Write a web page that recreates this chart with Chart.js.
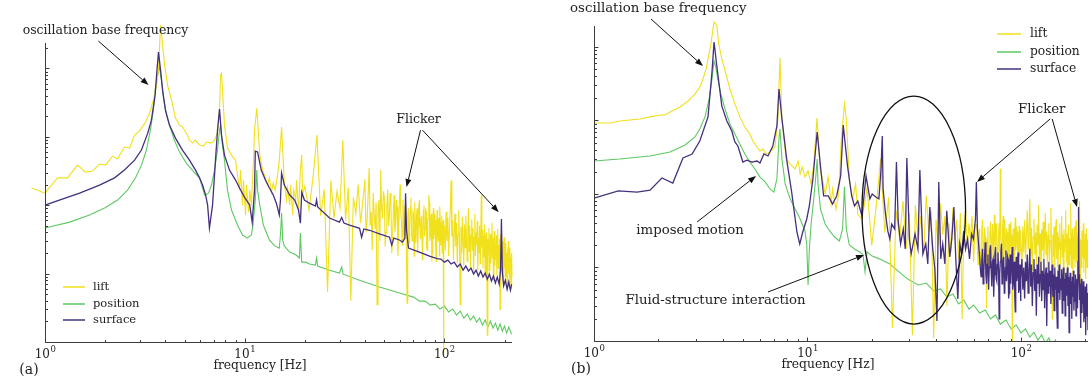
<!DOCTYPE html>
<html>
<head>
<meta charset="utf-8">
<script src="https://cdn.jsdelivr.net/npm/chart.js@4.4.1/dist/chart.umd.min.js"></script>
<style>
  body { margin: 0; background: #fff; }
  canvas { position: absolute; top: 0; }
  #chartA { left: 0; }
  #chartB { left: 546px; }
</style>
</head>
<body>
<canvas id="chartA" width="546" height="383"></canvas>
<canvas id="chartB" width="546" height="383"></canvas>
<script>
// series: [frequency Hz, amplitude]
const seriesNames = ["lift", "position", "surface"];
const seriesColors = ["#f1e01c", "#5ec962", "#45307e"];

const xMajor = [1, 10, 100];
const xTickExp = ["0", "1", "2"];
const yMajor = [1e-4, 1e-3, 1e-2, 1e-1, 1];

// ---- panel (a)
const liftA = [
  [0.664,1.78e-2],[0.72,1.5e-2],[0.856,1.78e-2],[1.0,1.5e-2],[1.155,2.51e-2],[1.296,2.51e-2],[1.455,3.85e-2],[1.595,3.05e-2],
  [1.729,3.15e-2],[1.875,3.99e-2],[2.009,3.85e-2],[2.178,5.22e-2],[2.307,4.72e-2],[2.5,7.08e-2],[2.65,6.84e-2],[2.81,0.106],
  [2.97,0.121],[3.19,0.164],[3.34,0.222],[3.49,0.344],[3.62,0.57],[3.7,0.944],[3.74,1.85],[3.79,4.3],[3.88,2.19],[3.97,1.12],
  [4.11,0.57],[4.3,0.344],[4.5,0.188],[4.72,0.148],[4.88,0.139],[5.17,0.106],[5.29,0.0895],[5.48,0.081],[5.67,0.0895],
  [5.94,0.0757],[6.22,0.0731],[6.44,0.0837],[6.82,0.081],[7.06,0.0895],[7.31,0.117],[7.48,0.246],[7.57,0.798],[7.65,0.853],
  [7.74,0.482],[7.92,0.148],[8.2,0.0684],[8.59,0.054],[9.0,0.0456],[9.21,0.0275],[9.42,0.0166],[9.53,0.0326],[9.75,0.01],
  [9.86,0.0233],[10.1,7.2e-3],[10.2,0.0197],[10.45,7.9e-3],[10.6,0.0166],[10.8,0.01],[11.07,0.0456],[11.2,0.125],[11.5,0.262],
  [11.6,0.175],[11.9,0.054],[12.3,0.0326],[12.7,0.0251],[13.0,0.0197],[13.3,0.0251],[13.6,0.0155],[13.9,0.021],[14.2,0.0166],
  [14.6,0.0275],[14.9,0.0456],[15.3,0.139],[15.5,0.064],[15.8,0.0197],[16.2,0.0119],[16.4,0.0178],[16.8,0.01],[17.0,0.0197],
  [17.4,7.2e-3],[17.6,0.0166],[18.0,0.0119],[18.2,0.0233],[18.6,7.9e-3],[19.0,0.0326],[19.3,0.054],[19.5,0.0141],
  [20,1.9e-2],[21,8.5e-3],[22,2.6e-2],[23,0.106],[24,7.0e-3],[25,1.7e-2],[26,5.4e-4],[27,2.3e-2],[28,6.5e-3],[29,1.6e-2],
  [30,9.0e-3],[31,8.9e-2],[32,6.0e-3],[33,1.8e-2],[34,4.0e-4],[35,1.3e-2],[36,7.5e-3],[37,2.0e-2],[38,5.5e-3],[39,1.1e-2],
  [40,2.4e-2],[40.5,4.0e-3],[41,6.0e-3],[41.5,1.4e-2],[42,3.5e-2],[42.5,5.0e-3],[43,8.0e-3],[43.5,2.2e-3],[44,1.5e-2],
  [44.5,7.0e-3],[45,4.5e-3],[45.5,1.1e-2],[46,3.5e-4],[46.5,8.5e-3],[47,1.2e-2],[47.5,3.0e-3],[48,3.3e-2],[48.5,9.0e-3],
  [49,6.5e-3],[49.5,1.6e-2],[50,1.3e-2],[50.5,2.5e-3],[51,4.0e-3],[51.5,1.0e-2],[52,1.7e-2],[52.5,5.0e-3],[53,7.0e-3],
  [53.5,1.5e-2],[54,1.0e-2],[54.5,2.0e-3],[55,3.2e-3],[55.5,8.0e-3],[56,1.4e-2],[56.5,4.0e-3],[57,5.5e-3],[57.5,1.2e-2],
  [58,9.5e-3],[58.5,1.8e-3],[59,4.0e-3],[59.5,1.1e-2],[60,2.0e-2],[60.5,7.0e-3],[61,6.0e-3],[61.5,2.6e-3],[62,1.2e-2],
  [62.5,5.5e-3],[63,3.5e-3],[63.5,1.0e-2],[64,8.5e-3],[64.5,2.2e-3],[65,3.7e-4],[65.5,6.5e-3],[66,9.0e-3],[66.5,2.8e-3],
  [67,4.5e-3],[67.5,9.5e-3],[68,1.3e-2],[68.5,3.8e-3],[69,3.0e-3],[69.5,8.0e-3],[70,7.5e-3],[70.5,1.8e-3],[71,1.1e-2],
  [71.5,5.0e-3],[72,2.8e-3],[72.5,7.0e-3],[73,9.0e-3],[73.5,2.0e-3],[74,5.0e-3],[74.5,1.0e-2],[75,1.2e-2],[75.5,4.0e-3],
  [76,3.2e-3],[76.5,6.5e-3],[77,7.0e-3],[77.5,1.6e-3],[78,2.5e-3],[78.5,8.5e-3],[79,1.0e-2],[79.5,3.5e-3],[80,4.5e-3],
  [80.5,9.0e-3],[81,8.0e-3],[81.5,2.4e-3],[82,2.2e-3],[82.5,6.0e-3],[83,6.5e-3],[83.5,1.4e-2],[84,1.1e-2],[84.5,3.0e-3],
  [85,3.5e-3],[85.5,6.0e-3],[86,7.5e-3],[86.5,1.5e-3],[87,2.0e-3],[87.5,5.5e-3],[88,9.0e-3],[88.5,3.2e-3],[89,4.0e-3],
  [89.5,7.5e-3],[90,6.0e-3],[90.5,2.2e-3],[91,1.5e-3],[91.5,5.0e-3],[92,8.5e-3],[92.5,4.0e-3],[93,3.0e-3],[93.5,6.5e-3],
  [94,5.5e-3],[94.5,1.8e-3],[95,9.5e-3],[95.5,4.5e-3],[96,2.6e-3],[96.5,5.5e-3],[97,7.0e-3],[97.5,2.0e-3],[98,3.8e-3],
  [98.5,6.0e-3],[99,6.5e-5],[99.5,4.0e-3],
  [100,5.0e-3],[101,2.2e-3],[102,8.0e-3],[103,3.0e-3],[104,6.5e-3],[105,1.8e-3],[106,4.5e-3],[107,9.0e-3],[108,2.3e-2],
  [109,3.5e-3],[110,6.0e-3],[111,1.6e-3],[112,4.0e-3],[113,7.5e-3],[114,2.5e-3],[115,5.5e-3],[116,1.4e-3],[117,3.8e-3],
  [118,8.5e-3],[119,2.6e-3],[120,3.5e-4],[121,4.8e-3],[122,2.0e-3],[123,6.8e-3],[124,3.0e-3],[125,1.3e-3],[126,5.2e-3],
  [127,2.4e-3],[128,7.0e-3],[129,3.2e-3],[130,1.5e-3],[131,4.4e-3],[132,9.0e-3],[133,2.1e-3],[134,5.0e-3],[135,1.2e-3],
  [136,3.6e-3],[137,6.2e-3],[138,2.2e-3],[139,4.6e-3],[140,1.0e-3],[141,3.4e-3],[142,7.5e-3],[143,1.8e-3],[144,4.0e-3],
  [145,2.6e-3],[146,5.8e-3],[147,1.1e-3],[148,3.3e-3],[149,2.0e-3],[150,5.0e-3],[151,1.4e-3],[152,3.0e-3],[153,1.4e-2],
  [154,2.4e-3],[155,4.4e-3],[156,1.2e-3],[157,3.6e-3],[158,1.8e-3],[159,5.2e-3],[160,9.0e-4],[161,2.8e-3],[162,4.0e-3],
  [163,1.5e-3],[164,1.26e-4],[165,3.2e-3],[166,1.9e-3],[167,4.6e-3],[168,1.1e-3],[169,2.6e-3],[170,3.8e-3],[171,1.4e-3],
  [172,2.9e-3],[173,5.5e-3],[174,1.7e-3],[175,3.4e-3],[176,8.0e-4],[177,2.4e-3],[178,4.2e-3],[179,1.3e-3],[180,2.8e-3],
  [181,1.6e-3],[182,3.6e-3],[183,9.5e-4],[184,2.2e-3],[185,4.5e-3],[186,1.2e-3],[187,2.6e-3],[188,1.5e-3],[189,3.2e-3],
  [190,3.0e-4],[191,2.0e-3],[192,3.8e-3],[193,1.1e-3],[194,2.5e-3],[195,1.4e-3],[196,3.0e-3],[197,7.0e-4],[198,2.2e-3],
  [199,3.4e-3],[200,1.2e-3],[201,2.4e-3],[202,9.0e-4],[203,2.8e-3],[204,1.3e-3],[205,2.0e-3],[206,6.5e-4],[207,2.3e-3],
  [208,1.1e-3],[209,3.0e-3],[210,1.0e-3],[211,1.8e-3],[212,7.0e-4],[213,2.4e-3],[214,1.2e-3],[215,1.7e-3],[216,6.0e-4],
  [217,2.0e-3],[218,9.0e-4],[219,1.5e-3],[220,5.5e-4],[221,1.9e-3],[222,8.5e-4],[223,1.3e-3],[224,4.5e-4],[225,1.6e-3],
  [226,7.5e-4],[227,1.2e-3],[228,5.0e-4],[229,1.5e-3],[230,3.5e-4],[231,1.1e-3],[232,6.5e-4],[233,1.3e-3],[234,5.0e-4],
  [235,9.5e-4],[236,4.0e-4],[237,1.2e-3],[238,6.0e-4],[239,8.5e-4],[240,3.8e-4],[241,1.0e-3],[242,5.5e-4],[243,8.0e-4],
  [244,4.0e-4],[245,9.0e-4],[246,5.0e-4],[247,7.5e-4],[248,3.5e-4],[249,8.0e-4],[250,5.5e-4]
];

const positionA = [
  [1.0,4.63e-3],[1.33,5.66e-3],[1.67,7.2e-3],[1.99,9.1e-3],[2.31,0.0119],[2.59,0.0166],[2.84,0.0251],[3.04,0.0385],
  [3.22,0.064],[3.37,0.125],[3.49,0.246],[3.56,0.482],[3.66,0.8],[3.74,1.04],[3.83,0.675],[3.92,0.368],[4.06,0.208],
  [4.2,0.148],[4.44,0.0895],[4.72,0.0597],[5.1,0.0412],[5.57,0.0305],[5.94,0.0251],[6.3,0.0141],[6.59,0.015],[6.82,0.0197],
  [7.06,0.0326],[7.31,0.064],[7.48,0.125],[7.57,0.148],[7.73,0.0757],[7.92,0.0456],[8.2,0.0166],[8.59,8.5e-3],[9.21,5.1e-3],
  [9.75,3.66e-3],[10.3,3.3e-3],[10.8,3.66e-3],[11.0,5.1e-3],[11.3,0.0119],[11.5,0.0326],[11.6,0.0166],[11.9,0.01],
  [12.4,5.1e-3],[13.3,3.09e-3],[14.2,2.52e-3],[14.9,2.36e-3],[15.1,3.66e-3],[15.3,7.7e-3],[15.5,3.09e-3],[15.8,2.52e-3],
  [16.8,2.06e-3],[18.1,1.87e-3],[18.8,1.69e-3],[19.0,3.91e-3],[19.3,1.47e-3],[20.2,1.47e-3],[21.1,1.38e-3],[22.6,1.33e-3],
  [22.9,1.69e-3],[23.2,1.29e-3],[26.6,1.12e-3],[29.8,1.02e-3],[30.6,1.25e-3],[31.1,9.8e-4],[37.6,8.0e-4],[47.3,6.35e-4],
  [59.6,5.19e-4],[70,4.53e-4],[75,3.96e-4],[80,3.96e-4],[85,3.46e-4],[90,3.58e-4],[95,3.03e-4],[100,3.35e-4],[105,2.74e-4],
  [110,3.03e-4],[115,2.47e-4],[120,2.83e-4],[125,2.24e-4],[130,2.56e-4],[135,2.09e-4],[140,2.39e-4],[145,1.95e-4],
  [150,2.24e-4],[155,1.77e-4],[160,2.09e-4],[165,1.65e-4],[170,2.02e-4],[175,1.6e-4],[180,1.89e-4],[185,1.49e-4],
  [190,1.83e-4],[195,1.44e-4],[200,1.71e-4],[205,1.35e-4],[210,1.65e-4],[217,1.3e-4]
];

const surfaceA = [
  [1.0,1.0e-2],[1.18,1.19e-2],[1.49,1.5e-2],[1.875,1.97e-2],[2.23,2.51e-2],[2.5,3.26e-2],[2.81,4.56e-2],[3.04,6.4e-2],
  [3.27,0.113],[3.41,0.175],[3.56,0.407],[3.62,0.8],[3.7,1.73],[3.79,0.944],[3.88,0.482],[4.01,0.246],[4.2,0.148],
  [4.5,0.0957],[4.88,0.064],[5.29,0.0456],[5.67,0.0326],[5.94,0.0251],[6.15,0.0197],[6.37,0.0141],[6.52,0.01],
  [6.66,4.63e-3],[6.9,0.01],[7.14,0.0456],[7.31,0.125],[7.48,0.254],[7.65,0.106],[7.92,0.054],[8.39,0.0326],[9.0,0.0233],
  [9.42,0.0178],[9.97,0.0131],[10.6,0.01],[10.9,5.66e-3],[11.2,0.0166],[11.3,0.0618],[11.6,0.06],[12.1,0.0326],
  [12.7,0.0233],[13.3,0.0178],[13.9,0.0141],[14.4,0.0107],[14.9,7.2e-3],[15.1,0.0119],[15.3,0.0295],[15.8,0.0197],
  [16.8,0.0141],[17.8,0.0119],[18.6,8.5e-3],[19.0,5.47e-3],[19.3,0.0155],[19.9,0.0119],[21.1,0.0107],[22.6,9.7e-3],
  [22.9,0.0119],[23.2,9.4e-3],[26.6,6.5e-3],[29.8,5.66e-3],[30.6,6.6e-3],[31.4,5.47e-3],[33.5,5.1e-3],[37.6,4.6e-3],
  [38.5,3.4e-3],[39.5,4.5e-3],[42.2,4.3e-3],[47.3,3.8e-3],[53.1,3.4e-3],[54.5,2.6e-3],[55.8,3.3e-3],[59.6,3.1e-3],
  [61.7,2.9e-3],[63.4,3.3e-3],[63.9,0.015],[64.6,4.3e-3],[66.1,2.36e-3],[75,2.06e-3],[84.2,1.8e-3],[92,1.66e-3],
  [96,1.63e-3],[100,1.47e-3],[104,1.57e-3],[108,1.38e-3],[112,1.47e-3],[116,1.25e-3],[120,1.38e-3],[124,1.12e-3],
  [128,1.29e-3],[132,1.09e-3],[136,1.2e-3],[140,9.8e-4],[144,1.12e-3],[148,9.2e-4],[152,1.09e-3],[156,8.9e-4],
  [160,1.02e-3],[164,8.3e-4],[168,9.8e-4],[172,7.8e-4],[176,9.2e-4],[180,7.3e-4],[184,8.9e-4],[188,7.0e-4],[191,1.12e-3],
  [193,6.3e-3],[195,1.05e-3],[198,6.6e-4],[202,8.0e-4],[206,5.9e-4],[210,7.5e-4],[214,5.7e-4],[217,7.0e-4]
];

// ---- panel (b)
const liftB = [
  [1.0,0.0925],[1.19,0.0925],[1.32,0.0985],[1.64,0.105],[1.83,0.112],[2.04,0.119],[2.15,0.119],[2.32,0.135],[2.53,0.153],
  [2.76,0.184],[2.97,0.229],[3.13,0.286],[3.24,0.367],[3.35,0.502],[3.42,0.687],[3.53,1.1],[3.61,1.76],[3.65,2.19],
  [3.72,2.05],[3.76,1.93],[3.84,1.1],[3.97,0.687],[4.15,0.429],[4.33,0.268],[4.57,0.168],[4.82,0.112],[5.09,0.0816],
  [5.37,0.0655],[5.55,0.0526],[5.8,0.0436],[5.99,0.0385],[6.19,0.0409],[6.39,0.035],[6.67,0.0373],[7.04,0.0436],
  [7.27,0.105],[7.43,0.708],[7.59,0.105],[7.94,0.03],[8.29,0.0256],[8.75,0.0219],[9.04,0.0281],[9.24,0.0187],[9.45,0.0233],
  [9.73,0.017],[10.06,0.0206],[10.4,0.0137],[10.7,0.0256],[11.08,0.108],[11.45,0.0219],[11.8,0.015],[12.1,0.01],
  [12.5,0.017],[12.9,7.3e-3],[13.1,0.0117],[13.6,6.25e-3],[14.0,0.01],[14.4,0.056],[14.9,0.168],[15.2,0.105],[15.7,0.016],
  [16.3,8.6e-3],[16.8,0.0137],[17.2,5.3e-3],
  [18,4.5e-3],[19,1.2e-2],[20,2.0e-3],[21,7.0e-3],[22,3.0e-2],[23,3.0e-3],[24,9.0e-3],[25,1.5e-4],[26,6.0e-3],[27,2.5e-3],
  [28,8.0e-3],[29,1.8e-3],[30,5.5e-3],[31,1.2e-4],[32,7.0e-3],[33,2.2e-3],[34,5.0e-3],[35,1.5e-3],[36,9.5e-3],[37,3.0e-3],
  [38,6.0e-3],[39,1.1e-4],[40,4.5e-3],[41,2.0e-3],[42,7.5e-3],[43,2.8e-3],[44,5.0e-3],[45,3.0e-4],[46,4.0e-3],[47,1.6e-3],
  [48,6.5e-3],[49,2.4e-3],[50,4.5e-3],[51,1.3e-3],[52,5.5e-3],[53,2.0e-4],[54,3.5e-3],[55,6.0e-3],[56,1.8e-3],[57,4.0e-3],
  [58,2.5e-3],[59,5.0e-3],[60,1.2e-3],[61,3.8e-3],
  [62,3.8e-3],[62.5,1.8e-3],[63,1.1e-3],[63.5,2.9e-3],[64,3.4e-3],[64.5,8.5e-4],[65,1.6e-3],[65.5,3.2e-3],[66,4.5e-3],
  [66.5,2.0e-3],[67,1.2e-3],[67.5,3.5e-3],[68,2.6e-3],[68.5,1.4e-3],[69,2.8e-4],[69.5,2.4e-3],[70,3.6e-3],[70.5,1.0e-3],
  [71,1.5e-3],[71.5,3.0e-3],[72,4.2e-3],[72.5,2.2e-3],[73,1.3e-3],[73.5,3.9e-3],[74,2.7e-3],[74.5,9.0e-4],[75,5.2e-3],
  [75.5,2.5e-3],[76,1.8e-3],[76.5,4.0e-3],[77,3.1e-3],[77.5,1.2e-3],[78,1.1e-3],[78.5,2.8e-3],[79,4.0e-3],[79.5,1.6e-3],
  [80,2.2e-2],[80.5,2.6e-3],[81,2.2e-3],[81.5,1.0e-3],[82,3.6e-3],[82.5,5.0e-3],[83,1.2e-3],[83.5,2.4e-3],[84,4.5e-3],
  [84.5,1.5e-3],[85,1.9e-3],[85.5,3.4e-3],[86,3.0e-3],[86.5,1.1e-3],[87,9.0e-4],[87.5,2.7e-3],[88,3.9e-3],[88.5,1.3e-3],
  [89,1.9e-3],[89.5,4.2e-3],[90,2.8e-3],[90.5,1.6e-3],[91,1.0e-4],[91.5,2.2e-3],[92,3.4e-3],[92.5,8.0e-4],[93,1.5e-3],
  [93.5,3.0e-3],[94,4.8e-3],[94.5,1.7e-3],[95,2.1e-3],[95.5,3.6e-3],[96,3.0e-3],[96.5,1.2e-3],[97,1.1e-3],[97.5,2.6e-3],
  [98,3.7e-3],[98.5,1.4e-3],[99,1.7e-3],[99.5,3.2e-3],
  [100,2.6e-3],[101,1.0e-3],[102,3.6e-3],[103,1.6e-3],[104,4.4e-3],[105,1.3e-3],[106,2.8e-3],
  [107,6.0e-3],[108,1.8e-3],[109,3.2e-3],[110,8.5e-3],[111,1.4e-3],[112,3.5e-3],[113,9.0e-4],[114,2.6e-3],[115,4.6e-3],
  [116,1.5e-3],[117,3.0e-3],[118,1.1e-3],[119,3.8e-3],[120,2.0e-3],[121,7.0e-3],[122,1.2e-3],[123,2.9e-3],[124,8.0e-4],
  [125,3.3e-3],[126,1.7e-3],[127,4.2e-3],[128,1.3e-3],[129,2.5e-3],[130,5.5e-3],[131,1.5e-3],[132,3.1e-3],[133,9.5e-4],
  [134,2.7e-3],[135,4.0e-3],[136,1.2e-3],[137,2.3e-3],[138,6.5e-3],[139,1.6e-3],[140,2.0e-4],[141,2.8e-3],[142,1.4e-3],
  [143,3.6e-3],[144,1.0e-3],[145,2.4e-3],[146,4.5e-3],[147,1.3e-3],[148,3.0e-3],[149,8.5e-4],[150,2.6e-3],[151,1.8e-3],
  [152,4.0e-3],[153,1.1e-3],[154,2.2e-3],[155,5.0e-3],[156,1.4e-3],[157,2.8e-3],[158,7.5e-4],[159,3.3e-3],[160,1.6e-3],
  [161,2.4e-3],[162,6.0e-3],[163,1.2e-3],[164,2.9e-3],[165,9.0e-4],[166,2.1e-3],[167,3.8e-3],[168,1.1e-3],[169,2.5e-3],
  [170,1.5e-3],[171,7.5e-3],[172,1.0e-3],[173,2.3e-3],[174,3.4e-3],[175,8.0e-4],[176,2.7e-3],[177,1.3e-3],[178,3.6e-3],
  [179,1.0e-3],[180,2.0e-3],[181,4.4e-3],[182,1.2e-3],[183,2.6e-3],[184,7.0e-4],[185,3.0e-3],[186,1.6e-3],[187,2.2e-3],
  [188,8.0e-3],[189,1.1e-3],[190,1.5e-4],[191,2.4e-3],[192,1.0e-3],[193,3.2e-3],[194,1.4e-3],[195,2.0e-3],[196,4.0e-3],
  [197,8.5e-4],[198,2.3e-3],[199,1.3e-3],[200,2.9e-3],[201,7.0e-4],[202,2.1e-3],[203,3.4e-3],[204,1.0e-3],[205,2.4e-3],
  [206,1.2e-3],[207,3.0e-3],[208,1.6e-3]
];

const positionB = [
  [1.0,0.0281],[1.32,0.0299],[1.83,0.0329],[2.27,0.0373],[2.67,0.0464],[2.97,0.0597],[3.13,0.0766],[3.31,0.112],
  [3.46,0.196],[3.57,0.367],[3.65,0.645],[3.72,0.534],[3.8,0.367],[3.93,0.229],[4.11,0.143],[4.33,0.0896],[4.57,0.0655],
  [4.82,0.0479],[5.09,0.035],[5.37,0.0272],[5.67,0.0219],[5.99,0.017],[6.33,0.0146],[6.67,0.0117],[6.96,0.0106],
  [7.19,0.016],[7.35,0.056],[7.43,0.0766],[7.59,0.0299],[7.86,0.0137],[8.29,8.6e-3],[8.75,6.25e-3],[9.24,4.57e-3],
  [9.73,3.14e-3],[9.92,2.09e-3],[10.06,5.8e-4],[10.2,1.79e-3],[10.4,3.91e-3],[10.7,8.6e-3],[10.96,0.0187],[11.1,0.0299],
  [11.2,0.0137],[11.5,6.25e-3],[12.1,3.91e-3],[12.7,3.14e-3],[13.4,2.6e-3],[14.1,2.3e-3],[14.6,3.34e-3],[14.9,0.0125],
  [15.2,3.34e-3],[15.7,2.02e-3],[16.6,1.79e-3],[17.6,1.63e-3],[18.2,1.48e-3],[18.6,8.7e-4],[19.0,1.63e-3],[20.1,1.43e-3],
  [21.7,1.31e-3],[24.3,1.12e-3],[28.7,7.4e-4],[30,6.76e-4],[33,5.78e-4],[36,6.15e-4],[39,4.79e-4],[42,5.1e-4],[45,3.97e-4],
  [48,4.36e-4],[51,3.19e-4],[54,3.61e-4],[57,2.72e-4],[60,3.09e-4],[64,2.4e-4],[68,2.64e-4],[72,1.99e-4],[76,2.26e-4],
  [80,1.7e-4],[85,1.93e-4],[90,1.46e-4],[95,1.65e-4],[100,1.29e-4],[105,1.46e-4],[110,1.13e-4],[115,1.32e-4],[120,1.03e-4],
  [125,1.21e-4],[130,9.4e-5],[135,1.1e-4],[140,8.5e-5],[145,1.03e-4],[150,7.8e-5],[160,7.0e-5]
];

const surfaceB = [
  [1.0,8.8e-3],[1.3,0.011],[1.59,0.0106],[1.83,0.0113],[2.08,0.0165],[2.34,0.0141],[2.61,0.0309],[2.88,0.035],[3.13,0.0526],
  [3.42,0.112],[3.57,0.457],[3.65,1.17],[3.76,0.552],[3.97,0.157],[4.19,0.0985],[4.42,0.072],[4.57,0.051],[4.72,0.045],
  [4.98,0.0272],[5.2,0.0289],[5.49,0.0272],[5.8,0.0281],[5.99,0.0264],[6.25,0.035],[6.53,0.0329],[6.88,0.045],[7.19,0.0842],
  [7.35,0.268],[7.59,0.105],[8.02,0.0272],[8.43,0.0106],[8.92,3.04e-3],[9.2,2.09e-3],[9.5,3.04e-3],[9.92,4.57e-3],
  [10.2,6.87e-3],[10.6,0.016],[11.1,0.0698],[11.5,0.024],[11.9,9.4e-3],[12.5,9.4e-3],[13.1,7.3e-3],[13.7,9.4e-3],
  [14.3,0.0176],[14.7,0.0869],[15.4,0.024],[16.1,9.4e-3],[16.6,6.87e-3],[17.2,8.0e-3],[18.0,5.0e-3],[18.8,0.0176],
  [19.6,8.6e-3],[20.1,0.01],[20.9,9.1e-3],[21.6,8.6e-3],[22.1,0.0219],[22.4,0.0615],[22.6,0.0117],[23.2,5.3e-3],
  [23.8,3.1e-3],[24.3,2.44e-3],[24.8,3.9e-3],[25.6,3.34e-3],[26.1,0.0272],[26.6,4.3e-3],[27.3,2.09e-3],[28.1,3.34e-3],
  [28.7,1.79e-3],[29.2,0.0309],[30.0,2.44e-3],[30.6,1.53e-3],[31.9,2.86e-3],[32.9,1.79e-3],[33.6,0.0212],[34.7,1.53e-3],
  [35.8,2.09e-3],[36.6,1.12e-3],[37.4,6.65e-3],[38.6,1.79e-3],[39.5,9.5e-4],[40.4,1.87e-4],[41.2,0.0146],[42.1,1.31e-3],
  [43.0,2.09e-3],[44.0,1.12e-3],[44.9,5.9e-3],[46.4,1.39e-3],[47.4,2.44e-3],[48.5,6.65e-3],[49.5,1.31e-3],[50.6,3.73e-4],
  [51.7,2.09e-3],[52.7,1.53e-3],[53.9,3.14e-3],[55.0,1.79e-3],[56.2,2.44e-3],[57.4,1.31e-3],[58.7,2.86e-3],[59.9,2.44e-3],
  [61.2,4.57e-3],[61.8,0.0146],[62.5,3.34e-3],[63.8,1.53e-3],
  [65,7.5e-4],[65.5,1.2e-3],[66,1.8e-3],[66.5,6.0e-4],[67,9.0e-4],[67.5,1.4e-3],[68,2.2e-3],[68.5,8.0e-4],[69,6.0e-4],
  [69.5,1.1e-3],[70,1.5e-3],[70.5,5.0e-4],[71,1.0e-3],[71.5,1.7e-3],[72,2.0e-3],[72.5,9.0e-4],[73,5.5e-4],[73.5,1.2e-3],
  [74,1.3e-3],[74.5,4.0e-4],[75,8.0e-4],[75.5,1.5e-3],[76,1.9e-3],[76.5,7.0e-4],[77,6.5e-4],[77.5,1.1e-3],[78,1.6e-3],
  [78.5,9.5e-4],[79,2.0e-4],[79.5,8.0e-4],[80,1.2e-3],[80.5,1.6e-3],[81,2.1e-3],[81.5,6.0e-4],[82,7.0e-4],[82.5,1.3e-3],
  [83,1.4e-3],[83.5,4.5e-4],[84,5.5e-4],[84.5,1.0e-3],[85,1.7e-3],[85.5,6.5e-4],[86,8.5e-4],[86.5,1.4e-3],[87,1.3e-3],
  [87.5,3.8e-4],[88,4.5e-4],[88.5,9.5e-4],[89,1.5e-3],[89.5,6.0e-4],[90,9.0e-4],[90.5,1.2e-3],[91,1.9e-3],[91.5,5.0e-4],
  [92,6.0e-4],[92.5,1.1e-3],[93,1.2e-3],[93.5,4.0e-4],[94,2.5e-4],[94.5,8.5e-4],[95,1.4e-3],[95.5,6.5e-4],[96,7.5e-4],
  [96.5,1.3e-3],[97,1.6e-3],[97.5,4.5e-4],[98,5.0e-4],[98.5,9.0e-4],[99,1.1e-3],[99.5,3.5e-4],
  [100,7.0e-4],[101,1.3e-3],[102,5.0e-4],[103,1.0e-3],
  [104,3.8e-4],[105,1.2e-3],[106,6.5e-4],[107,1.5e-3],[108,4.5e-4],[109,9.0e-4],[110,1.8e-3],[111,5.5e-4],[112,1.1e-3],
  [113,3.0e-4],[114,8.5e-4],[115,1.3e-3],[116,4.8e-4],[117,9.5e-4],[118,2.2e-4],[119,1.1e-3],[120,6.0e-4],[121,1.4e-3],
  [122,4.0e-4],[123,8.0e-4],[124,1.2e-3],[125,3.5e-4],[126,9.0e-4],[127,5.0e-4],[128,1.3e-3],[129,2.8e-4],[130,7.5e-4],
  [131,1.0e-3],[132,1.6e-4],[133,8.5e-4],[134,4.5e-4],[135,1.2e-3],[136,5.5e-4],[137,9.0e-4],[138,3.2e-4],[139,7.0e-4],
  [140,1.1e-3],[141,4.0e-4],[142,8.0e-4],[143,2.6e-4],[144,1.0e-3],[145,5.0e-4],[146,7.5e-4],[147,3.0e-4],[148,1.5e-4],
  [149,9.0e-4],[150,4.5e-4],[151,1.1e-3],[152,3.6e-4],[153,7.0e-4],[154,5.0e-4],[155,9.5e-4],[156,2.4e-4],[157,6.5e-4],
  [158,1.0e-3],[159,3.5e-4],[160,7.0e-4],[161,2.2e-4],[162,8.5e-4],[163,4.2e-4],[164,6.0e-4],[165,1.0e-3],[166,3.0e-4],
  [167,7.5e-4],[168,1.3e-4],[169,6.0e-4],[170,8.5e-4],[171,3.2e-4],[172,6.5e-4],[173,2.0e-4],[174,7.5e-4],[175,4.0e-4],
  [176,9.0e-4],[177,2.6e-4],[178,6.0e-4],[179,3.4e-4],[180,8.0e-4],[181,2.2e-4],[182,5.5e-4],[183,7.0e-4],[184,2.8e-4],
  [185,1.2e-3],[186,6.65e-3],[187,8.0e-4],[188,3.6e-4],[189,6.0e-4],[190,1.5e-4],[191,5.0e-4],[192,7.0e-4],[193,2.4e-4],
  [194,5.5e-4],[195,3.2e-4],[196,6.5e-4],[197,1.8e-4],[198,4.5e-4],[199,2.0e-4],[200,5.5e-4],[201,1.2e-4],[202,4.0e-4],
  [203,6.0e-4],[204,2.2e-4],[205,4.5e-4],[206,1.4e-4],[207,3.8e-4],[208,2.6e-4]
];

// annotations, anchored in data coordinates [frequency, amplitude]
const notesA = {
  label: "(a)", labelX: 29, titleX: 260, size: 12.5, legendSize: 11.5,
  legend: { dx: 18, len: 22, gap: 8, dy: [244, 261, 277] },
  texts: [
    { t: "oscillation base frequency", at: [2.01, 3.5] },
    { t: "Flicker", at: [74.2, 0.175] }
  ],
  arrows: [
    { from: [1.85, 2.51], to: [3.3, 0.57] },
    { from: [75.9, 0.125], to: [64.6, 0.0184] },
    { from: [77.7, 0.125], to: [187, 7.9e-3] }
  ]
};
const notesB = {
  label: "(b)", labelX: 35, titleX: 282, size: 13.3, legendSize: 12.3,
  legend: { dx: 403, len: 24, gap: 9, dy: [8, 26, 43] },
  texts: [
    { t: "oscillation base frequency", at: [2.0, 3.3] },
    { t: "imposed motion", at: [2.82, 3.14e-3] },
    { t: "Fluid-structure interaction", at: [3.71, 3.5e-4] },
    { t: "Flicker", at: [125, 0.143] }
  ],
  arrows: [
    { from: [1.85, 2.4], to: [3.24, 0.551] },
    { from: [3.04, 4.16e-3], to: [5.74, 0.0176] },
    { from: [6.53, 4.64e-4], to: [18.4, 1.48e-3] },
    { from: [137, 0.105], to: [62.2, 0.0146] },
    { from: [140, 0.105], to: [183, 6.65e-3] }
  ],
  ellipse: { f: [18.0, 55.0], v: [0.215, 1.7e-4] }
};

const FONT = "DejaVu Serif";

function drawArrow(ctx, x1, y1, x2, y2) {
  const ang = Math.atan2(y2 - y1, x2 - x1), len = 8, hw = 3;
  const bx = x2 - len * Math.cos(ang), by = y2 - len * Math.sin(ang);
  ctx.beginPath(); ctx.moveTo(x1, y1); ctx.lineTo(bx, by); ctx.stroke();
  ctx.beginPath();
  ctx.moveTo(x2, y2);
  ctx.lineTo(bx + hw * Math.sin(ang), by - hw * Math.cos(ang));
  ctx.lineTo(bx - hw * Math.sin(ang), by + hw * Math.cos(ang));
  ctx.closePath(); ctx.fill();
}

const decorPlugin = {
  id: "decor",
  afterDatasetsDraw(chart, args, n) {
    const { ctx, chartArea: a, scales: { x, y } } = chart;
    const X = f => x.getPixelForValue(f), Y = v => y.getPixelForValue(v);
    ctx.save();
    // axis lines
    const L = Math.round(a.left) + 0.5, B = Math.round(a.bottom) + 0.5;
    ctx.strokeStyle = "#3c3c3c"; ctx.lineWidth = 1;
    ctx.beginPath(); ctx.moveTo(L, a.top); ctx.lineTo(L, B); ctx.lineTo(a.right, B); ctx.stroke();
    // ticks (inward)
    ctx.beginPath();
    xMajor.forEach(d => {
      for (let m = 1; m < 10; m++) {
        const f = m * d; if (f > x.max) break;
        const px = Math.round(X(f)) + 0.5;
        ctx.moveTo(px, B); ctx.lineTo(px, B - (m === 1 ? 4 : 2.5));
      }
    });
    yMajor.forEach(d => {
      for (let m = 1; m < 10; m++) {
        const v = m * d; if (v > y.max) break;
        const py = Math.round(Y(v)) + 0.5;
        ctx.moveTo(L, py); ctx.lineTo(L + (m === 1 ? 4 : 2.5), py);
      }
    });
    ctx.stroke();
    // x tick labels 10^k
    ctx.fillStyle = "#222"; ctx.textBaseline = "alphabetic";
    xMajor.forEach((d, i) => {
      ctx.font = "12px " + FONT; const w1 = ctx.measureText("10").width;
      ctx.font = "8.5px " + FONT; const w2 = ctx.measureText(xTickExp[i]).width;
      const x0 = X(d) - (w1 + w2) / 2;
      ctx.font = "12px " + FONT; ctx.fillText("10", x0, B + 15.5);
      ctx.font = "8.5px " + FONT; ctx.fillText(xTickExp[i], x0 + w1 + 0.5, B + 9.5);
    });
    ctx.textAlign = "center";
    ctx.font = "12.3px " + FONT;
    ctx.fillText("frequency [Hz]", n.titleX, B + 26);
    ctx.font = "14px " + FONT; ctx.textBaseline = "middle";
    ctx.fillText(n.label, n.labelX, B + 28);
    // annotation texts
    ctx.font = n.size + "px " + FONT;
    n.texts.forEach(t => ctx.fillText(t.t, X(t.at[0]), Y(t.at[1])));
    // arrows
    ctx.strokeStyle = "#111"; ctx.fillStyle = "#111"; ctx.lineWidth = 1;
    n.arrows.forEach(r => drawArrow(ctx, X(r.from[0]), Y(r.from[1]), X(r.to[0]), Y(r.to[1])));
    if (n.ellipse) {
      const x1 = X(n.ellipse.f[0]), x2 = X(n.ellipse.f[1]);
      const y1 = Y(n.ellipse.v[0]), y2 = Y(n.ellipse.v[1]);
      ctx.lineWidth = 1.3;
      ctx.beginPath();
      ctx.ellipse((x1 + x2) / 2, (y1 + y2) / 2, (x2 - x1) / 2, (y2 - y1) / 2, 0, 0, 2 * Math.PI);
      ctx.stroke();
    }
    // legend
    const lg = n.legend;
    ctx.textAlign = "left"; ctx.font = n.legendSize + "px " + FONT; ctx.fillStyle = "#222";
    seriesNames.forEach((name, i) => {
      const yy = a.top + lg.dy[i];
      ctx.strokeStyle = seriesColors[i]; ctx.lineWidth = 1.5;
      ctx.beginPath(); ctx.moveTo(a.left + lg.dx, yy); ctx.lineTo(a.left + lg.dx + lg.len, yy); ctx.stroke();
      ctx.fillText(name, a.left + lg.dx + lg.len + lg.gap, yy);
    });
    ctx.restore();
  }
};

const toXY = arr => arr.map(([x, y]) => ({ x, y }));

function makeChart(id, lift, position, surface, notes, padding, xMax, yMax, clip) {
  const mk = (label, data, color, width, order) => ({
    label, data: toXY(data), borderColor: color, borderWidth: width,
    pointRadius: 0, tension: 0, fill: false, order, clip
  });
  return new Chart(document.getElementById(id), {
    type: "line",
    data: {
      datasets: [
        mk(seriesNames[2], surface, seriesColors[2], 1.3, 0),
        mk(seriesNames[0], lift, seriesColors[0], 1.1, 1),
        mk(seriesNames[1], position, seriesColors[1], 1.1, 2)
      ]
    },
    options: {
      responsive: false, animation: false, devicePixelRatio: 1,
      layout: { padding },
      scales: {
        x: { type: "logarithmic", min: 1, max: xMax, display: false },
        y: { type: "logarithmic", min: 1e-4, max: yMax, display: false }
      },
      plugins: { legend: { display: false }, tooltip: { enabled: false }, decor: notes }
    },
    plugins: [decorPlugin]
  });
}

makeChart("chartA", liftA, positionA, surfaceA, notesA,
  { left: 45, right: 34, top: 43, bottom: 41 }, 218, 2.35, false);
makeChart("chartB", liftB, positionB, surfaceB, notesB,
  { left: 48, right: 4, top: 26, bottom: 42 }, 206, 1.93, { left: 0, top: false, right: 0, bottom: 0 });
</script>
</body>
</html>
